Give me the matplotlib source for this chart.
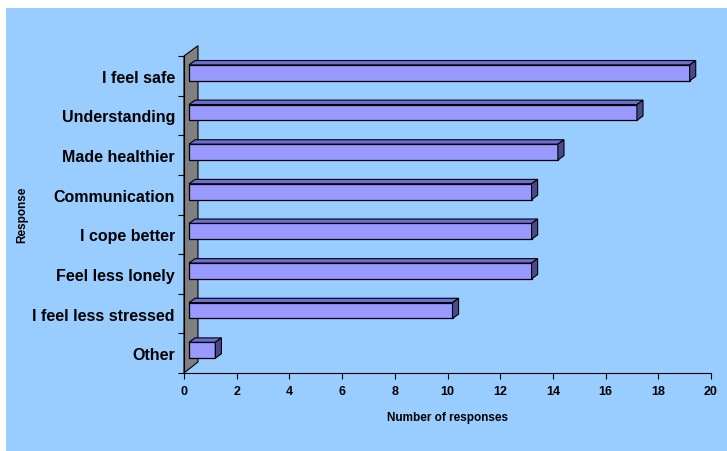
import matplotlib
matplotlib.use("Agg")
import matplotlib.pyplot as plt
from matplotlib.patches import Polygon, Rectangle
import numpy as np

plt.rcParams['font.family'] = ['Liberation Sans', 'DejaVu Sans']

# responses, bottom to top
categories = ['Other', 'I feel less stressed', 'Feel less lonely', 'I cope better',
              'Communication', 'Made healthier', 'Understanding', 'I feel safe']
counts = [1, 10, 13, 13, 13, 14, 17, 19]
xticks = list(range(0, 21, 2))

front_col = '#9999FF'
top_col = '#6E6ED2'
side_col = '#4A4A8A'
wall_col = '#808080'
bg_col = '#99CCFF'

fig = plt.figure(figsize=(7.27, 4.52), dpi=100)
fig.patch.set_facecolor('white')
# blue chart area
fig.patches.append(Rectangle((6 / 727, 0), 1, 1 - 9 / 452, transform=fig.transFigure,
                             facecolor=bg_col, edgecolor='none', zorder=-1))

ax = fig.add_axes([184 / 727, 78 / 452, 527 / 727, 317 / 452])
ax.set_facecolor('none')

y = np.arange(len(categories))
h = 0.40       # bar thickness
yoff = 0.076   # bars sit a little above the category centre
x0 = 0.19      # front face starts a little right of the wall
dx, dy = 0.23, 0.11   # 3d depth of the bars

# back wall
wall = Polygon([(0, -0.5), (0.53, -0.22), (0.53, 7.76), (0, 7.5)], closed=True,
               facecolor=wall_col, edgecolor='black', linewidth=0.8, clip_on=False, zorder=1)
ax.add_patch(wall)

yb = y + yoff
ax.barh(yb, counts, height=h, left=x0, color=front_col, edgecolor='black',
        linewidth=0.9, zorder=3)
for yi, v in zip(yb, counts):
    x1 = x0 + v
    top = [(x0, yi + h / 2), (x0 + dx, yi + h / 2 + dy), (x1 + dx, yi + h / 2 + dy), (x1, yi + h / 2)]
    side = [(x1, yi - h / 2), (x1 + dx, yi - h / 2 + dy), (x1 + dx, yi + h / 2 + dy), (x1, yi + h / 2)]
    ax.add_patch(Polygon(top, closed=True, facecolor=top_col, edgecolor='black',
                         linewidth=0.8, zorder=3, clip_on=False))
    ax.add_patch(Polygon(side, closed=True, facecolor=side_col, edgecolor='black',
                         linewidth=0.8, zorder=3, clip_on=False))

ax.set_xlim(0, 20)
ax.set_ylim(-0.5, 7.5)
ax.set_xticks(xticks)
ax.set_xticklabels([str(t) for t in xticks], fontsize=9, fontweight='bold')
ax.set_yticks(y)
ax.set_yticklabels(categories, fontsize=11.5, fontweight='bold')
ax.set_yticks(np.arange(-0.5, 8, 1), minor=True)
ax.tick_params(axis='y', which='major', length=0, pad=6.5)
ax.tick_params(axis='y', which='minor', length=4.5, width=0.8, direction='out')
ax.tick_params(axis='x', length=4.5, width=0.8, direction='out', pad=4)

for s in ['top', 'right']:
    ax.spines[s].set_visible(False)
ax.spines['left'].set_linewidth(0.8)
ax.spines['bottom'].set_linewidth(0.8)

ax.set_xlabel('Number of responses', fontsize=8.5, fontweight='bold', labelpad=10)
fig.text(22 / 727, 1 - 215 / 452, 'Response', rotation=90, fontsize=8.5,
         fontweight='bold', ha='center', va='center')

fig.savefig('out.png', dpi=100)
